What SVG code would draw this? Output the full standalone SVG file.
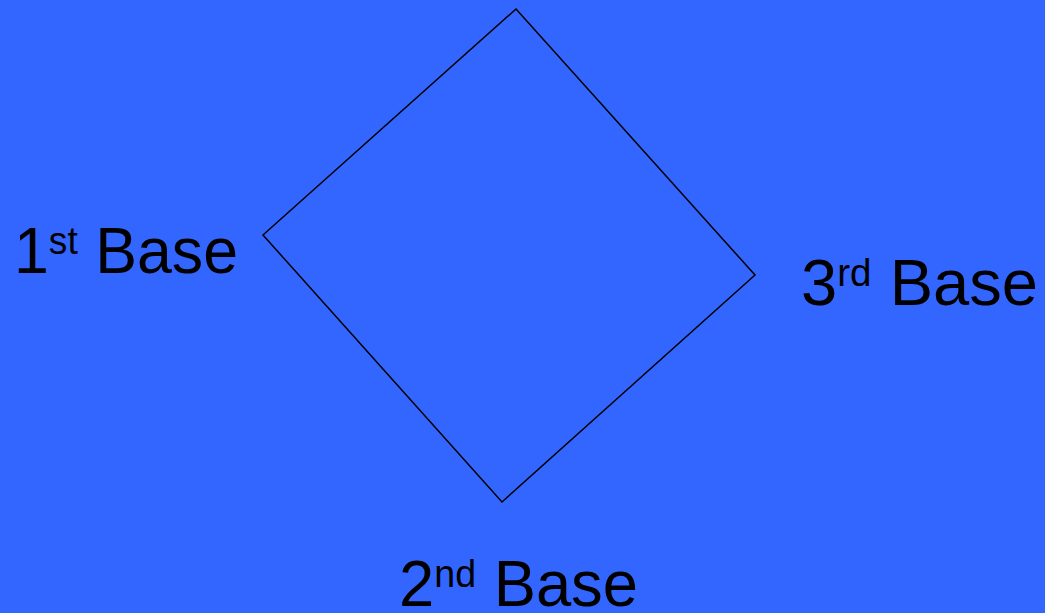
<svg xmlns="http://www.w3.org/2000/svg" width="1045" height="613" viewBox="0 0 1045 613">
<style>
.lbl{font-family:"Comic Sans MS","Liberation Sans","DejaVu Sans",sans-serif;font-size:64px;fill:#000}
.sup{font-size:38px}
</style>
<rect width="1045" height="613" fill="#3366FF"/>
<g id="connectors">
<polygon points="516,9 755,275 502,502 263,235" fill="none" stroke="#000" stroke-width="1.5"/>
</g>
<g id="first-base"><text class="lbl" x="14" y="273" textLength="224" lengthAdjust="spacingAndGlyphs">1<tspan class="sup" dy="-19">st</tspan><tspan dy="19"> Base</tspan></text></g>
<g id="third-base"><text class="lbl" x="801" y="305" textLength="237" lengthAdjust="spacingAndGlyphs">3<tspan class="sup" dy="-19">rd</tspan><tspan dy="19"> Base</tspan></text></g>
<g id="second-base"><text class="lbl" x="399" y="606" textLength="239" lengthAdjust="spacingAndGlyphs">2<tspan class="sup" dy="-19">nd</tspan><tspan dy="19"> Base</tspan></text></g>
</svg>
